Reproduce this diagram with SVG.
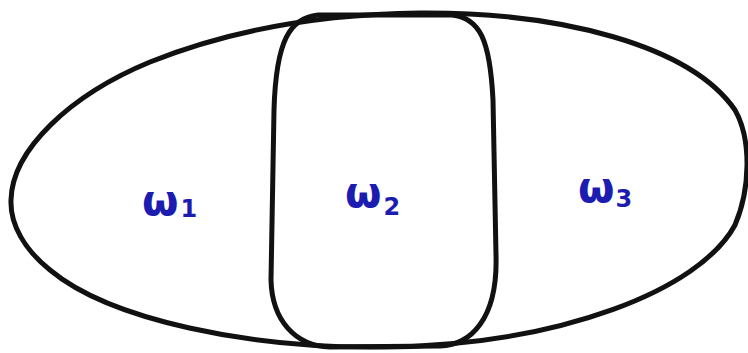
<svg xmlns="http://www.w3.org/2000/svg" width="748" height="353" viewBox="0 0 748 353">
<style>
.edge{fill:none;stroke:#111;stroke-width:5;stroke-linejoin:round;stroke-linecap:round}
.lbl{font-family:"DejaVu Sans",sans-serif;font-weight:bold;fill:#1c1cb0;font-size:42px}
.sub{font-size:24px}
</style>
<rect width="748" height="353" fill="#fff"/>
<g id="domain">
<path class="edge" d="M 11 200 C 12 150, 70 95, 150 62 C 230 30, 320 14, 420 13 C 560 12, 690 45, 735 110 C 752 140, 750 190, 735 225 C 700 290, 560 345, 385 347 C 250 349, 110 320, 50 270 C 25 250, 10 225, 11 200 Z"/>
</g>
<g id="middle">
<path class="edge" d="M 318 15 L 452 15 C 480 18, 490 40, 493 100 L 496 255 C 498 320, 470 345, 440 346 L 330 347 C 295 346, 272 320, 271 280 L 274 110 C 276 40, 290 18, 318 15 Z"/>
</g>
<g id="w1"><text class="lbl" x="142" y="215">ω<tspan class="sub" dy="2" dx="2">1</tspan></text></g>
<g id="w2"><text class="lbl" x="345" y="207">ω<tspan class="sub" dy="8" dx="2">2</tspan></text></g>
<g id="w3"><text class="lbl" x="578" y="202">ω<tspan class="sub" dy="5" dx="1">3</tspan></text></g>
<g id="connectors"/>
</svg>
